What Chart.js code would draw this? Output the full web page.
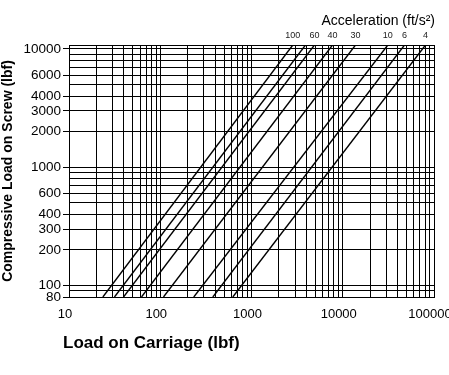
<!DOCTYPE html>
<html>
<head>
<script src="https://cdn.jsdelivr.net/npm/chart.js"></script>
<style>
  html, body { margin: 0; padding: 0; background: #fff; }
</style>
</head>
<body>
<canvas id="loadChart" width="449" height="375"></canvas>
<script>
// screw load at the two ends of every curve (bottom and top of the plot)
const screwLoad = [80, 10800];
// carriage load where each curve meets the bottom / top edge
const carriageLoadLow = [23.5, 31.5, 39.6, 62.3, 108.5, 233, 377, 624];
const carriageLoadHigh = [2836, 3908, 4900, 7727, 13800, 31190, 47520, 80700];
// acceleration printed above each curve (second curve has no label)
const accelLabels = ['100', '', '60', '40', '30', '10', '6', '4'];

const xLabels = [10, 100, 1000, 10000, 100000];
const yLabels = [80, 100, 200, 300, 400, 600, 1000, 2000, 3000, 4000, 6000, 10000];

// full log grid: 1..9 in every decade
const xGrid = [];
for (let d = 10; d < 100000; d *= 10) {
  for (let m = 1; m < 10; m++) xGrid.push(m * d);
}
xGrid.push(100000);
const yGrid = [80, 90];
for (let d = 100; d < 10000; d *= 10) {
  for (let m = 1; m < 10; m++) yGrid.push(m * d);
}
yGrid.push(10000, screwLoad[1]);

const FONT = "'Liberation Sans', Arial, Helvetica, sans-serif";
Chart.defaults.font.family = FONT;
Chart.defaults.color = '#000';

const extraText = {
  id: 'extraText',
  afterDraw(chart) {
    const { ctx, chartArea, scales } = chart;
    ctx.save();
    ctx.fillStyle = '#000';
    ctx.textBaseline = 'alphabetic';

    ctx.font = '14px ' + FONT;
    ctx.textAlign = 'right';
    ctx.fillText('Acceleration (ft/s\u00b2)', chartArea.right + 1, 25);

    ctx.font = '9px ' + FONT;
    ctx.fillStyle = '#222';
    ctx.textAlign = 'center';
    accelLabels.forEach((lbl, i) => {
      if (!lbl) return;
      ctx.fillText(lbl, scales.x.getPixelForValue(carriageLoadHigh[i]), 38);
    });

    ctx.fillStyle = '#000';
    ctx.font = 'bold 17px ' + FONT;
    ctx.textAlign = 'left';
    ctx.fillText('Load on Carriage (lbf)', chartArea.left - 6, 348);
    ctx.restore();
  }
};

new Chart(document.getElementById('loadChart'), {
  type: 'scatter',
  data: {
    datasets: carriageLoadLow.map((lo, i) => ({
      label: accelLabels[i],
      data: [{ x: lo, y: screwLoad[0] }, { x: carriageLoadHigh[i], y: screwLoad[1] }],
      showLine: true,
      borderColor: '#000',
      borderWidth: 1.4,
      pointRadius: 0,
      fill: false
    }))
  },
  options: {
    responsive: false,
    animation: false,
    layout: { padding: { top: 45, right: 15, bottom: 0, left: 0 } },
    plugins: { legend: { display: false }, tooltip: { enabled: false } },
    scales: {
      x: {
        type: 'logarithmic',
        min: 10,
        max: 100000,
        afterBuildTicks: s => { s.ticks = xGrid.map(v => ({ value: v })); },
        afterFit: s => { s.height = 78; s.paddingLeft = 0; s.paddingRight = 0; },
        ticks: {
          autoSkip: false,
          maxRotation: 0,
          minRotation: 0,
          padding: 10,
          labelOffset: -4,
          font: { size: 13 },
          callback: v => xLabels.includes(v) ? String(v) : ''
        },
        grid: { color: '#000', lineWidth: 1, drawTicks: false },
        border: { color: '#000' }
      },
      y: {
        type: 'logarithmic',
        min: screwLoad[0],
        max: screwLoad[1],
        afterBuildTicks: s => { s.ticks = yGrid.map(v => ({ value: v })); },
        afterFit: s => { s.width = 69; },
        ticks: {
          autoSkip: false,
          padding: 2,
          font: { size: 13.5 },
          callback: v => yLabels.includes(v) ? String(v) : ''
        },
        grid: {
          color: '#000',
          lineWidth: 1,
          tickLength: 6,
          tickColor: c => (c.tick && yLabels.includes(c.tick.value)) ? '#000' : 'rgba(0,0,0,0)'
        },
        border: { color: '#000' },
        title: {
          display: true,
          text: 'Compressive Load on Screw (lbf)',
          font: { size: 14, weight: 'bold' },
          padding: 0
        }
      }
    }
  },
  plugins: [extraText]
});
</script>
</body>
</html>
